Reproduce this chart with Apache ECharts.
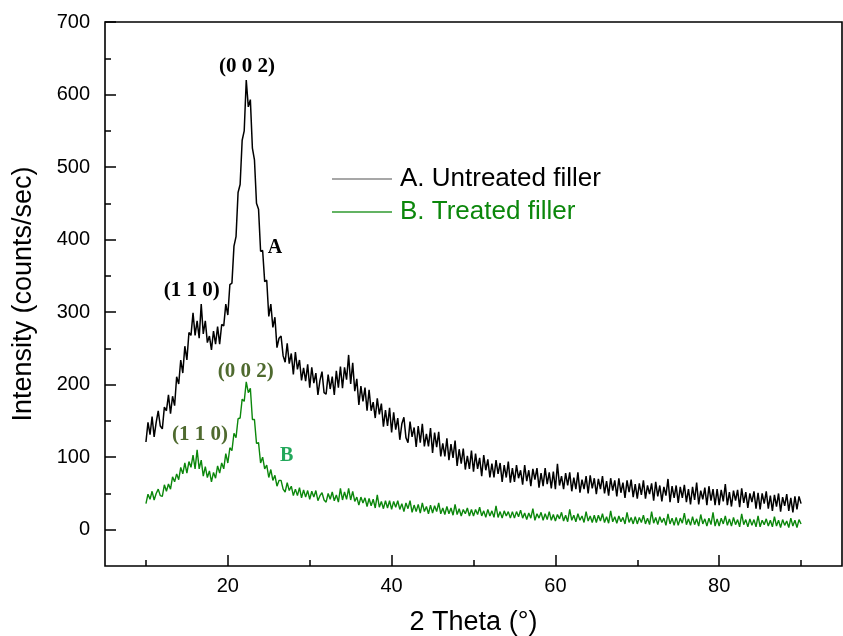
<!DOCTYPE html>
<html>
<head>
<meta charset="utf-8">
<script src="https://cdn.jsdelivr.net/npm/echarts@6/dist/echarts.min.js"></script>
<style>html,body{margin:0;padding:0;background:#fff}#c{width:843px;height:636px}</style>
</head>
<body>
<div id="c"></div>
<script>
// sampling grid of the scan (2θ, degrees)
const thetaStart = 10;
const thetaStep = 0.25;

// A. Untreated filler (counts/sec), 10° → 90° every 0.25°
const untreated = [
121,148,131,156,128,148,164,143,139,169,164,186,160,184,171,211,201,234,216,253,
234,272,268,299,268,288,264,311,270,288,258,267,248,274,256,280,256,283,281,311,
296,338,340,391,404,465,476,537,550,620,583,593,526,510,450,442,384,385,342,344,
294,311,279,293,251,264,267,240,231,257,229,243,214,245,221,234,206,223,205,228,
196,224,202,216,186,206,218,189,187,214,194,211,186,219,196,225,195,224,207,241,
201,230,191,208,172,198,177,196,164,193,164,176,154,181,159,174,142,165,143,168,
134,162,138,154,124,146,155,127,120,149,128,141,114,143,120,146,115,132,115,140,
106,134,114,135,101,119,101,126,96,118,99,123,88,111,91,112,83,102,84,109,
80,105,84,99,74,103,82,97,72,91,72,96,77,92,66,89,72,94,65,85,
66,89,71,82,62,89,67,82,60,84,69,85,58,78,60,85,63,79,57,80,
56,91,61,74,56,78,61,79,53,72,56,79,51,69,56,74,50,75,57,71,
49,70,56,74,50,67,47,71,54,68,46,71,51,65,44,68,52,69,45,63,
43,64,48,68,43,61,49,64,40,66,46,61,39,59,47,70,38,60,44,61,
37,59,44,62,38,56,35,59,41,65,35,54,42,58,34,60,40,56,34,56,
34,55,39,63,34,52,32,54,40,55,31,57,37,52,30,50,38,53,29,51,
28,50,36,53,29,47,26,48,32,50,25,45,33,49,26,44,24,46,28,46,
36
];

// B. Treated filler (counts/sec), 10° → 90° every 0.25°
const treated = [
36,49,42,53,41,50,56,47,46,62,53,63,56,73,66,77,69,86,77,92,
78,94,86,103,84,110,84,96,74,87,72,81,66,79,71,88,78,92,84,105,
92,113,109,133,127,153,154,180,177,204,189,195,152,152,119,120,92,100,84,89,
72,83,68,75,60,68,68,56,52,65,54,60,47,56,47,58,44,55,45,54,
42,53,45,54,40,47,51,41,38,50,42,52,40,48,38,57,41,52,42,57,
41,53,39,45,34,45,37,44,32,43,33,42,30,48,31,39,29,40,30,40,
28,39,31,40,28,36,25,37,29,40,24,34,25,35,23,37,25,32,22,34,
23,33,25,37,22,30,21,32,22,30,20,35,21,29,19,28,22,30,19,28,
19,28,21,31,19,26,17,28,19,26,17,33,17,25,16,26,19,25,16,25,
16,25,18,27,16,23,14,23,16,29,13,22,16,24,13,22,14,25,13,21,
12,21,15,24,12,20,11,28,13,20,11,22,13,19,10,25,12,19,10,20,
10,20,12,22,10,18,9,26,11,18,9,19,11,17,8,24,10,17,8,18,
8,17,10,20,8,16,7,25,9,17,7,18,10,16,6,22,8,16,6,17,
6,16,9,23,7,15,6,18,7,15,5,21,8,15,5,16,7,24,5,15,
5,16,8,19,6,15,5,17,7,14,4,22,7,14,4,15,6,14,4,19,
4,13,7,15,5,13,4,18,5,13,3,14,6,12,3,16,5,13,3,14,
8
];

const seriesNames = ['A. Untreated filler', 'B. Treated filler'];
const xMajorTicks = [20, 40, 60, 80];
const xMinorTicks = [10, 30, 50, 70, 90];
const yMajorTicks = [0, 100, 200, 300, 400, 500, 600, 700];
const yMinorTicks = [50, 150, 250, 350, 450, 550, 650];

// peak annotations: [2θ, intensity, text]
const untreatedPeaks = [[22.35, 638, '(0 0 2)'], [15.6, 330, '(1 1 0)'], [25.75, 389, 'A']];
const treatedPeaks = [[22.2, 218, '(0 0 2)'], [16.6, 131, '(1 1 0)'], [27.2, 102, 'B']];

const toPairs = arr => arr.map((v, i) => [thetaStart + i * thetaStep, v]);

const chart = echarts.init(document.getElementById('c'), null, {renderer: 'canvas'});

const SANS = '"Liberation Sans", Arial, sans-serif';
const SERIF = '"Liberation Serif", "Times New Roman", serif';

function peakMarks(list, colorFn) {
  return {
    silent: true,
    symbol: 'circle',
    symbolSize: 0,
    data: list.map(p => ({
      coord: [p[0], p[1]],
      label: {
        show: true, position: 'inside', formatter: p[2],
        fontFamily: SERIF, fontWeight: 'bold',
        fontSize: p[2].length === 1 ? 20 : 21,
        color: colorFn(p[2])
      }
    }))
  };
}

const xCommon = {type: 'value', min: 5, max: 95, splitLine: {show: false}, axisLine: {show: false, onZero: false}};
const yCommon = {type: 'value', min: -50, max: 700, splitLine: {show: false}, axisLine: {show: false, onZero: false}};

chart.setOption({
  animation: false,
  backgroundColor: '#fff',
  grid: {left: 105, top: 22, width: 737, height: 544, outerBoundsMode: 'none', containLabel: false,
         show: true, borderColor: '#000', borderWidth: 1.6, backgroundColor: 'transparent'},
  legend: {
    orient: 'vertical', left: 332, top: 166, padding: 0,
    icon: 'rect', itemWidth: 60, itemHeight: 1.5, itemGap: 7,
    textStyle: {fontFamily: SANS, fontSize: 26, lineHeight: 26, padding: [0, 0, 0, 3]},
    data: [
      {name: seriesNames[0], itemStyle: {color: '#8a8a8a'}, textStyle: {color: '#000'}},
      {name: seriesNames[1], itemStyle: {color: '#2f9a2f'}, textStyle: {color: '#0b870b'}}
    ]
  },
  xAxis: [
    Object.assign({}, xCommon, {
      position: 'bottom',
      name: '2 Theta (°)', nameLocation: 'middle', nameGap: 43,
      nameTextStyle: {fontFamily: SANS, fontSize: 27, color: '#000'},
      axisTick: {show: true, inside: true, length: 11, customValues: xMajorTicks, lineStyle: {color: '#000', width: 1.5}},
      axisLabel: {show: true, customValues: xMajorTicks, margin: 10, fontFamily: SANS, fontSize: 20, color: '#000'}
    }),
    Object.assign({}, xCommon, {
      position: 'bottom',
      axisTick: {show: true, inside: true, length: 6, customValues: xMinorTicks, lineStyle: {color: '#000', width: 1.5}},
      axisLabel: {show: false}
    })
  ],
  yAxis: [
    Object.assign({}, yCommon, {
      position: 'left',
      name: 'Intensity (counts/sec)', nameLocation: 'middle', nameGap: 68, nameRotate: 90,
      nameTextStyle: {fontFamily: SANS, fontSize: 27, color: '#000'},
      axisTick: {show: true, inside: true, length: 11, customValues: yMajorTicks, lineStyle: {color: '#000', width: 1.5}},
      axisLabel: {show: true, customValues: yMajorTicks, margin: 15, fontFamily: SANS, fontSize: 20, color: '#000'}
    }),
    Object.assign({}, yCommon, {
      position: 'left',
      axisTick: {show: true, inside: true, length: 6, customValues: yMinorTicks, lineStyle: {color: '#000', width: 1.5}},
      axisLabel: {show: false}
    })
  ],
  series: [
    {
      name: seriesNames[0], type: 'line', xAxisIndex: 0, yAxisIndex: 0,
      data: toPairs(untreated), symbol: 'none', showSymbol: false,
      lineStyle: {color: '#000', width: 1.5}, itemStyle: {color: '#000'},
      markPoint: peakMarks(untreatedPeaks, () => '#000'),
      z: 3
    },
    {
      name: seriesNames[1], type: 'line', xAxisIndex: 0, yAxisIndex: 0,
      data: toPairs(treated), symbol: 'none', showSymbol: false,
      lineStyle: {color: '#0b870b', width: 1.4}, itemStyle: {color: '#0b870b'},
      markPoint: peakMarks(treatedPeaks, t => t === 'B' ? '#22a75a' : '#4f6a2f'),
      z: 2
    }
  ]
});
</script>
</body>
</html>
